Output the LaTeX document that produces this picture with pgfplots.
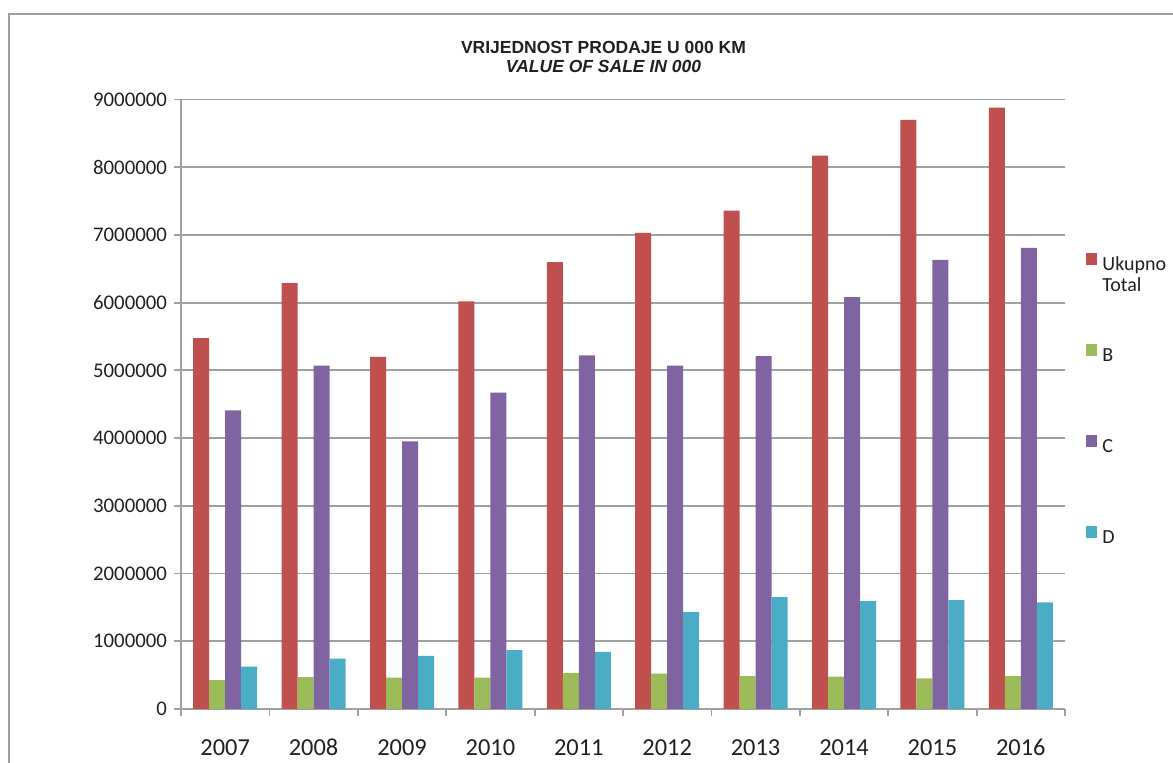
\documentclass[border=0pt]{standalone}
\usepackage{fontspec}
\setmainfont{Carlito}
\newfontfamily\titlefont{Liberation Sans}
\usepackage{pgfplots}
\usepackage{pgfplotstable}
\pgfplotsset{compat=1.18}
\definecolor{cTot}{HTML}{C0504D}
\definecolor{cB}{HTML}{9BBB59}
\definecolor{cC}{HTML}{8064A2}
\definecolor{cD}{HTML}{4BACC6}
\definecolor{gridgray}{HTML}{A0A0A0}
\definecolor{txt}{HTML}{202020}
\pgfplotstableread{
x year total B C D
0 2007 5476000 428000 4410000 624000
1 2008 6290000 472000 5070000 742000
2 2009 5200000 462000 3950000 786000
3 2010 6020000 462000 4670000 870000
4 2011 6600000 531000 5220000 845000
5 2012 7030000 521000 5070000 1431000
6 2013 7360000 487000 5210000 1652000
7 2014 8170000 477000 6080000 1593000
8 2015 8700000 453000 6630000 1608000
9 2016 8880000 487000 6810000 1574000
}\data
\begin{document}
\begin{tikzpicture}
\path[use as bounding box] (0,0) rectangle (586.5pt,381.5pt);
\draw[gridgray, line width=1pt] (4.5pt,-2pt) -- (4.5pt,374.5pt) -- (592pt,374.5pt);
\node[text=txt, font=\titlefont\bfseries\fontsize{8.75}{9.4}\selectfont, anchor=base] at (301.75pt,354.5pt) {VRIJEDNOST PRODAJE U 000 KM};
\node[text=txt, font=\titlefont\bfseries\itshape\fontsize{8.75}{9.4}\selectfont, anchor=base] at (301.75pt,345.2pt) {VALUE OF SALE IN 000};
\begin{axis}[
  at={(90.5pt,27pt)}, anchor=south west, scale only axis,
  width=442pt, height=304.75pt,
  ybar=0pt, bar width=8pt,
  xmin=-0.5, xmax=9.5, ymin=0, ymax=9000000,
  xtick={0,1,2,3,4,5,6,7,8,9},
  xticklabels={2007,2008,2009,2010,2011,2012,2013,2014,2015,2016},
  major x tick style={draw=none},
  minor xtick={-0.5,0.5,...,9.5},
  ytick={0,1000000,2000000,3000000,4000000,5000000,6000000,7000000,8000000,9000000},
  scaled y ticks=false,
  yticklabel style={text=txt, /pgf/number format/fixed, /pgf/number format/1000 sep={}, /pgf/number format/assume math mode=true, font=\fontsize{10.4}{12}\selectfont},
  xticklabel style={text=txt, font=\fontsize{12.2}{14}\selectfont, inner sep=0pt, anchor=north, text height=7.8pt, text depth=0pt, yshift=-12pt},
  axis x line*=bottom, axis y line*=left,
  tick align=outside, major tick length=3.5pt, minor tick length=3.5pt,
  ymajorgrids, grid style={gridgray, line width=0.9pt},
  axis line style={gridgray, line width=0.9pt},
  every tick/.style={gridgray, line width=0.9pt},
  minor tick style={gridgray, line width=0.9pt},
  every axis plot post/.append style={draw=none,
    legend image code/.code={\fill[##1] (0pt,0.2pt) rectangle (5.5pt,6pt);}},
  legend cell align=left,
  legend style={at={(1.0238,0.7482)}, anchor=north west, draw=none, fill=none,
    inner sep=0pt, row sep=35pt, column sep=2.5pt,
    nodes={text=txt, inner sep=0pt, text height=7pt, text depth=2pt, font=\fontsize{10}{10.5}\selectfont},
    cells={anchor=west}},
]
\addplot[fill=cTot] table[x=x,y=total]{\data};
\addlegendentry{\begin{tabular}[t]{@{}l@{}}Ukupno\\Total\end{tabular}}
\addplot[fill=cB] table[x=x,y=B]{\data};
\addlegendentry{B}
\addplot[fill=cC] table[x=x,y=C]{\data};
\addlegendentry{C}
\addplot[fill=cD] table[x=x,y=D]{\data};
\addlegendentry{D}
\end{axis}
\end{tikzpicture}
\end{document}
